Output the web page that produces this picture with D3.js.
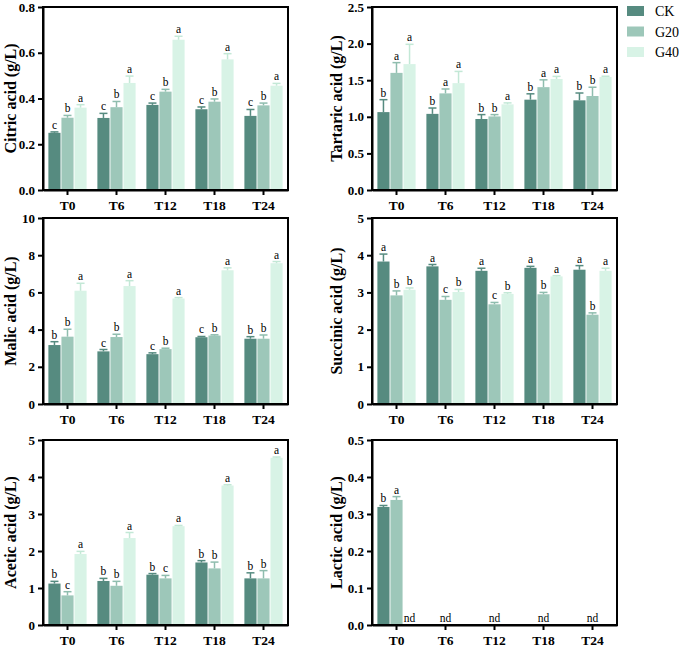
<!DOCTYPE html>
<html>
<head>
<meta charset="utf-8">
<script src="https://cdn.jsdelivr.net/npm/d3@7"></script>
<style>
body { margin: 0; background: #fff; }
svg text { font-family: "Liberation Serif", "Times New Roman", serif !important; }
</style>
</head>
<body>
<div class="container"></div>
<script>
const WIDTH = 679;
const HEIGHT = 648;

const times = ["T0", "T6", "T12", "T18", "T24"];
const groups = ["CK", "G20", "G40"];
const colors = ["#568b80", "#9dc7b9", "#d8f3e6"];
const errColors = ["#568b80", "#8fbdae", "#c3e8d6"];

// means / errors / letters, one row per group (CK, G20, G40)
const citricMeans = [[0.25, 0.315, 0.372, 0.353, 0.324], [0.316, 0.362, 0.43, 0.386, 0.37], [0.36, 0.468, 0.657, 0.571, 0.456]];
const citricErrs = [[0.004, 0.02, 0.008, 0.01, 0.028], [0.01, 0.025, 0.01, 0.012, 0.01], [0.013, 0.03, 0.015, 0.025, 0.01]];
const citricLetters = [["c", "c", "c", "c", "c"], ["b", "b", "b", "b", "b"], ["a", "a", "a", "a", "a"]];

const tartaricMeans = [[1.064, 1.04, 0.97, 1.234, 1.225], [1.6, 1.32, 1.005, 1.405, 1.284], [1.72, 1.46, 1.17, 1.517, 1.544]];
const tartaricErrs = [[0.17, 0.08, 0.06, 0.08, 0.1], [0.14, 0.06, 0.025, 0.1, 0.12], [0.27, 0.16, 0.02, 0.035, 0.01]];
const tartaricLetters = [["b", "b", "b", "b", "b"], ["a", "a", "b", "a", "b"], ["a", "a", "a", "a", "a"]];

const malicMeans = [[3.17, 2.83, 2.68, 3.59, 3.51], [3.62, 3.6, 2.95, 3.68, 3.51], [6.09, 6.34, 5.67, 7.19, 7.57]];
const malicErrs = [[0.18, 0.1, 0.07, 0.04, 0.11], [0.4, 0.15, 0.05, 0.04, 0.2], [0.4, 0.29, 0.05, 0.13, 0.09]];
const malicLetters = [["b", "c", "c", "c", "b"], ["b", "b", "b", "b", "b"], ["a", "a", "a", "a", "a"]];

const succinicMeans = [[3.83, 3.7, 3.58, 3.66, 3.61], [2.92, 2.8, 2.68, 2.95, 2.4], [3.07, 3.01, 2.96, 3.43, 3.58]];
const succinicErrs = [[0.2, 0.05, 0.07, 0.04, 0.11], [0.12, 0.09, 0.05, 0.05, 0.05], [0.05, 0.07, 0.03, 0.02, 0.07]];
const succinicLetters = [["a", "a", "a", "a", "a"], ["b", "c", "c", "b", "b"], ["b", "b", "b", "a", "a"]];

const aceticMeans = [[1.12, 1.19, 1.36, 1.69, 1.26], [0.8, 1.06, 1.26, 1.53, 1.26], [1.92, 2.35, 2.67, 3.77, 4.52]];
const aceticErrs = [[0.06, 0.07, 0.03, 0.05, 0.15], [0.1, 0.12, 0.08, 0.17, 0.21], [0.07, 0.15, 0.02, 0.02, 0.02]];
const aceticLetters = [["b", "b", "b", "b", "b"], ["c", "b", "c", "b", "b"], ["a", "a", "a", "a", "a"]];

const lacticMeans = [[0.319, null, null, null, null], [0.338, null, null, null, null], [null, null, null, null, null]];
const lacticErrs = [[0.004, 0, 0, 0, 0], [0.009, 0, 0, 0, 0], [0, 0, 0, 0, 0]];
const lacticLetters = [["b", "", "", "", ""], ["a", "nd", "nd", "nd", "nd"], ["nd", "", "", "", ""]];

const SERIF = "'Liberation Serif', 'Times New Roman', serif";

var svg = d3.select(".container").append("svg")
    .attr("width", WIDTH)
    .attr("height", HEIGHT)
    .style("font-family", SERIF);

var drawPanel = function(p) {
    var x = d3.scaleBand().domain(times).range([p.x0, p.x1]).padding(0);
    var bw = x.bandwidth();
    var xg = d3.scaleBand().domain(groups).range([bw * 0.11, bw * 0.89]).paddingInner(0.07);
    var y = d3.scaleLinear().domain([0, p.max]).range([p.y1, p.y0]);

    var g = svg.append("g");

    groups.forEach(function(grp, gi) {
        var rows = times.map(function(t, ti) {
            return { t: t, v: p.means[gi][ti], e: p.errs[gi][ti], l: p.letters[gi][ti] };
        });
        var cx = function(d) { return x(d.t) + xg(grp) + xg.bandwidth() / 2; };

        g.selectAll(null).data(rows.filter(function(d) { return d.v != null; }))
            .enter().append("rect")
            .attr("x", function(d) { return x(d.t) + xg(grp); })
            .attr("width", xg.bandwidth())
            .attr("y", function(d) { return y(d.v); })
            .attr("height", function(d) { return y(0) - y(d.v); })
            .attr("fill", colors[gi]);

        var withErr = rows.filter(function(d) { return d.v != null && d.e > 0; });
        g.selectAll(null).data(withErr).enter().append("line")
            .attr("x1", cx).attr("x2", cx)
            .attr("y1", function(d) { return y(d.v); })
            .attr("y2", function(d) { return y(d.v + d.e); })
            .attr("stroke", errColors[gi]).attr("stroke-width", 1.5);
        g.selectAll(null).data(withErr).enter().append("line")
            .attr("x1", function(d) { return cx(d) - 4; })
            .attr("x2", function(d) { return cx(d) + 4; })
            .attr("y1", function(d) { return y(d.v + d.e); })
            .attr("y2", function(d) { return y(d.v + d.e); })
            .attr("stroke", errColors[gi]).attr("stroke-width", 1.5);

        g.selectAll(null).data(rows.filter(function(d) { return d.l; })).enter().append("text")
            .attr("x", cx)
            .attr("y", function(d) { return y((d.v || 0) + (d.e || 0)) - 3; })
            .attr("text-anchor", "middle")
            .style("font-family", SERIF)
            .attr("font-size", 11.5)
            .text(function(d) { return d.l; });
    });

    var yAxis = d3.axisLeft(y)
        .tickValues(d3.range(0, p.max + p.step / 2, p.step))
        .tickFormat(d3.format(p.fmt))
        .tickSize(5).tickSizeOuter(0);
    var xAxis = d3.axisBottom(x).tickSize(5).tickSizeOuter(0);

    var ya = svg.append("g").attr("transform", "translate(" + p.x0 + ",0)").call(yAxis);
    var xa = svg.append("g").attr("transform", "translate(0," + p.y1 + ")").call(xAxis);
    [ya, xa].forEach(function(a) {
        a.attr("font-family", null).style("font-family", SERIF);
        a.selectAll("path").attr("stroke-width", 2);
        a.selectAll("line").attr("stroke-width", 2);
        a.selectAll("text").attr("font-size", 13).attr("font-weight", "bold")
            .style("font-family", SERIF).attr("fill", "#000");
    });
    xa.selectAll("text").attr("font-size", 13.5).attr("dy", "0.9em");

    svg.append("rect")
        .attr("x", p.x0).attr("y", p.y0)
        .attr("width", p.x1 - p.x0).attr("height", p.y1 - p.y0)
        .attr("fill", "none").attr("stroke", "#000").attr("stroke-width", 2);

    svg.append("text")
        .attr("transform", "translate(" + p.tx + "," + ((p.y0 + p.y1) / 2) + ") rotate(-90)")
        .attr("text-anchor", "middle")
        .style("font-family", SERIF)
        .attr("font-size", 16).attr("font-weight", "bold")
        .text(p.title);
};

var L = [43, 288], R = [372, 617];
var rows = [[7, 190], [218, 404], [440, 625]];

var panels = [
    { x0: L[0], x1: L[1], y0: rows[0][0], y1: rows[0][1], tx: 16, max: 0.8, step: 0.2, fmt: ".1f", title: "Citric acid (g/L)", means: citricMeans, errs: citricErrs, letters: citricLetters },
    { x0: R[0], x1: R[1], y0: rows[0][0], y1: rows[0][1], tx: 342, max: 2.5, step: 0.5, fmt: ".1f", title: "Tartaric acid (g/L)", means: tartaricMeans, errs: tartaricErrs, letters: tartaricLetters },
    { x0: L[0], x1: L[1], y0: rows[1][0], y1: rows[1][1], tx: 16, max: 10, step: 2, fmt: "d", title: "Malic acid (g/L)", means: malicMeans, errs: malicErrs, letters: malicLetters },
    { x0: R[0], x1: R[1], y0: rows[1][0], y1: rows[1][1], tx: 342, max: 5, step: 1, fmt: "d", title: "Succinic acid (g/L)", means: succinicMeans, errs: succinicErrs, letters: succinicLetters },
    { x0: L[0], x1: L[1], y0: rows[2][0], y1: rows[2][1], tx: 16, max: 5, step: 1, fmt: "d", title: "Acetic acid (g/L)", means: aceticMeans, errs: aceticErrs, letters: aceticLetters },
    { x0: R[0], x1: R[1], y0: rows[2][0], y1: rows[2][1], tx: 342, max: 0.5, step: 0.1, fmt: ".1f", title: "Lactic acid (g/L)", means: lacticMeans, errs: lacticErrs, letters: lacticLetters }
];

panels.forEach(drawPanel);

// legend
var legend = svg.append("g").attr("transform", "translate(627,6)");
groups.forEach(function(grp, i) {
    legend.append("rect").attr("x", 0).attr("y", i * 20.5).attr("width", 17).attr("height", 10).attr("fill", colors[i]);
    legend.append("text").attr("x", 28).attr("y", i * 20.5 + 10)
        .style("font-family", SERIF).attr("font-size", 14).text(grp);
});
</script>
</body>
</html>
